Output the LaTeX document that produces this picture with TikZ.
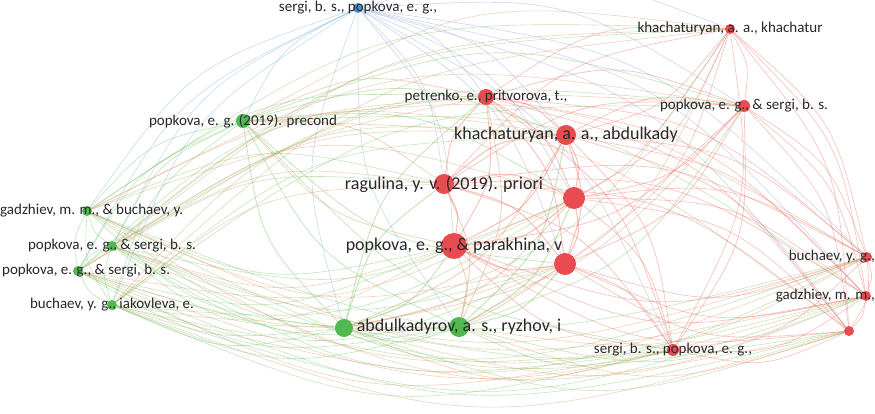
\documentclass[tikz,border=0pt]{standalone}
\usepackage{fontspec}
\setmainfont{Carlito}
\usetikzlibrary{backgrounds}
\definecolor{nG}{RGB}{80,186,80}
\definecolor{nR}{RGB}{232,76,80}
\definecolor{nB}{RGB}{74,144,208}
\definecolor{eGG}{RGB}{105,200,95}
\definecolor{eRR}{RGB}{240,105,95}
\definecolor{eGR0}{RGB}{120,195,95}
\definecolor{eGR1}{RGB}{215,150,100}
\definecolor{eBG}{RGB}{120,175,215}
\definecolor{eBR}{RGB}{140,160,215}
\definecolor{txt}{RGB}{40,40,40}
\def\nodelist{b1/358/8/5/B, g1/243/121/7/G, g2/87/211/5/G, g3/112/246/5/G, g4/78/271/5/G, g5/112/305/5/G, g6/344/328/9/G, g7/459/327/10/G, r1/486/97/8/R, r2/566/135/10/R, r3/444/184/10/R, r4/574/198/11/R, r5/454/246/13/R, r6/565/264/11/R, r7/730/29/5/R, r8/744/106/6/R, r9/867/257/5/R, r10/866/296/5/R, r11/849/331/5/R, r12/673/350/6/R}
\begin{document}
\begin{tikzpicture}[x=1pt,y=-1pt,
  dotnode/.style={circle,inner sep=0pt,draw=none},
  lbl/.style={font=\fontsize{15}{15}\selectfont,text=txt,inner sep=0pt},
  biglbl/.style={font=\fontsize{18}{18}\selectfont,text=txt,inner sep=0pt},
  edgeline/.style={opacity=0.42,line cap=round}]
\useasboundingbox (0,0) rectangle (875,414);
% nodes
\foreach \n/\x/\y/\r/\c in \nodelist {
  \pgfmathsetmacro\dd{2*\r}
  \node[dotnode,fill=n\c,minimum size=\dd pt] (\n) at (\x,\y) {};
}
% edges
\begin{pgfonlayer}{background}
\fill[white] (0,0) rectangle (875,414);
\foreach \na/\xa/\ya/\ra/\ca [count=\i] in \nodelist {
  \foreach \nb/\xb/\yb/\rb/\cb [count=\j] in \nodelist {
    \ifnum\j>\i
      \pgfmathsetmacro\mx{(\xa+\xb)/2}
      \pgfmathsetmacro\my{(\ya+\yb)/2}
      \pgfmathsetmacro\ddx{(\xb-\xa)/100}
      \pgfmathsetmacro\ddy{(\yb-\ya)/100}
      \pgfmathsetmacro\dprod{(-\ddy)*(\mx-437)/100+(\ddx)*(\my-207)/100}
      \pgfmathsetmacro\sgn{\dprod>=0 ? 1 : -1}
      \pgfmathsetmacro\cx{\mx-\sgn*\ddy*16}
      \pgfmathsetmacro\cy{\my+\sgn*\ddx*16}
      \pgfmathsetmacro\w{0.2+0.08*min(\ra,\rb)}
      \pgfmathtruncatemacro\epar{mod(\i+\j,2)}
      \def\ecol{e\ca\cb}
      \if G\ca\if R\cb\def\ecol{eGR\epar}\fi\fi
      \draw[edgeline,color=\ecol,line width=\w pt] (\na) .. controls (\cx,\cy) .. (\nb);
    \fi
  }
}
\end{pgfonlayer}
% labels
\node[lbl] (tb1) at (b1) {sergi, b. s., popkova, e. g.,};
\node[lbl] (tg1) at (g1) {popkova, e. g. (2019). precond};
\node[lbl,anchor=west] (tg2) at (0,211) {gadzhiev, m. m., \& buchaev, y.};
\node[lbl] (tg3) at (g3) {popkova, e. g., \& sergi, b. s.};
\node[lbl,anchor=west] (tg4) at (2,271) {popkova, e. g., \& sergi, b. s.};
\node[lbl] (tg5) at (g5) {buchaev, y. g., iakovleva, e.};
\node[biglbl] (tg7) at (g7) {abdulkadyrov, a. s., ryzhov, i};
\node[lbl] (tr1) at (r1) {petrenko, e., pritvorova, t.,};
\node[biglbl] (tr2) at (r2) {khachaturyan, a. a., abdulkady};
\node[biglbl] (tr3) at (r3) {ragulina, y. v. (2019). priori};
\node[biglbl] (tr5) at (r5) {popkova, e. g., \& parakhina, v};
\node[lbl] (tr7) at (r7) {khachaturyan, a. a., khachatur};
\node[lbl] (tr8) at (r8) {popkova, e. g., \& sergi, b. s.};
\node[lbl,anchor=east] (tr9) at (875,257) {buchaev, y. g.,};
\node[lbl,anchor=east] (tr10) at (875,296) {gadzhiev, m. m.,};
\node[lbl] (tr12) at (r12) {sergi, b. s., popkova, e. g.,};
\end{tikzpicture}
\end{document}
